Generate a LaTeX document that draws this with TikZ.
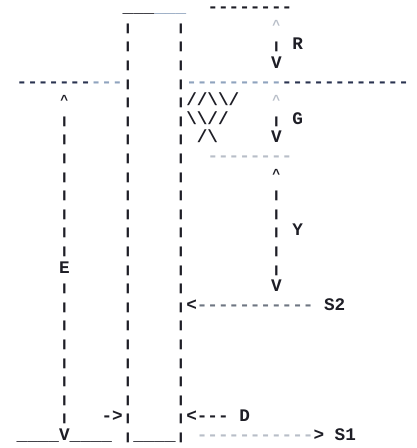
\documentclass[tikz,border=0pt]{standalone}
\usepackage{fontspec}
\setmonofont{Liberation Mono}
\usepackage{graphicx}
\definecolor{ink}{HTML}{1E1E26}
\definecolor{navyink}{HTML}{2A3350}
\definecolor{paleblue}{HTML}{8FA3BE}
\definecolor{faintgray}{HTML}{B8BEC8}
\definecolor{midgray}{HTML}{6E7682}
\newcommand{\vb}{\scalebox{1}[0.59]{|}}
\newcommand{\up}{\makebox[0.6em]{\raisebox{1.5pt}{\scalebox{0.75}{\textasciicircum}}}}
\newcommand{\bs}{\textbackslash}
\tikzset{
  asc/.style={inner sep=0pt, outer sep=0pt, anchor=base west,
    font=\ttfamily\bfseries\fontsize{17.66}{18.6}\selectfont, text=ink},
  faint/.style={asc, text=faintgray},
  pale/.style={asc, text=paleblue},
  navy/.style={asc, text=navyink},
  mid/.style={asc, text=midgray}
}
\begin{document}
\begin{tikzpicture}
\useasboundingbox (0pt,0pt) rectangle (416pt,-448pt);
\fill[white] (0pt,0pt) rectangle (416pt,-448pt);
\begin{scope}[shift={(-4.5pt,-12.6pt)}, x=10.6pt, y=-18.6pt]
  % tube
  \node[asc] (toplid) at (12,0) {\_\_\_};
  \node[pale] (toplid2) at (15,0) {\_\_\_};
  \foreach \r in {1,...,23} {
    \node[asc] (wl\r) at (12,\r) {\vb};
    \node[asc] (wr\r) at (17,\r) {\vb};
  }
  \node[asc] (botlid) at (13,23) {\_\_\_\_};
  % top line and R arrow
  \node[asc] (topdash) at (20,0) {--------};
  \node[faint] (rup) at (26,1) {\up};
  \node[asc] (rbar) at (26,2) {\vb};
  \node[asc] (R) at (28,2) {R};
  \node[asc] (rdn) at (26,3) {V};
  % middle line
  \node[navy] (ml1) at (2,4) {-------};
  \node[pale] (ml2) at (9,4) {---};
  \node[pale] (mr1) at (18,4) {---------};
  \node[navy] (mr2) at (27,4) {------------};
  % hatching
  \node[asc] (h1) at (18,5) {//\bs\bs/};
  \node[asc] (h2) at (18,6) {\bs\bs//};
  \node[asc] (h3) at (19,7) {/\bs};
  % G arrow
  \node[faint] (gup) at (26,5) {\up};
  \node[asc] (gbar) at (26,6) {\vb};
  \node[asc] (G) at (28,6) {G};
  \node[asc] (gdn) at (26,7) {V};
  \node[faint] (dots) at (20,8) {--------};
  % Y arrow
  \node[asc] (yup) at (26,9) {\up};
  \foreach \r in {10,...,14} { \node[asc] (yb\r) at (26,\r) {\vb}; }
  \node[asc] (Y) at (28,12) {Y};
  \node[asc] (ydn) at (26,15) {V};
  % S2
  \node[asc] (s2tip) at (18,16) {<};
  \node[mid] (s2line) at (19,16) {-----------};
  \node[asc] (S2) at (31,16) {S2};
  % E arrow
  \node[asc] (eup) at (6,5) {\up};
  \foreach \r in {6,...,13,15,16,...,22} { \node[asc] (eb\r) at (6,\r) {\vb}; }
  \node[asc] (E) at (6,14) {E};
  \node[asc] (ebl) at (2,23) {\_\_\_\_};
  \node[asc] (edn) at (6,23) {V};
  \node[asc] (ebr) at (7,23) {\_\_\_\_};
  % D
  \node[asc] (din) at (10,22) {->};
  \node[asc] (dout) at (18,22) {<---};
  \node[asc] (D) at (23,22) {D};
  % S1
  \node[faint] (s1line) at (19,23) {-----------};
  \node[asc] (s1tip) at (30,23) {>};
  \node[asc] (S1) at (32,23) {S1};
\end{scope}
\end{tikzpicture}
\end{document}
